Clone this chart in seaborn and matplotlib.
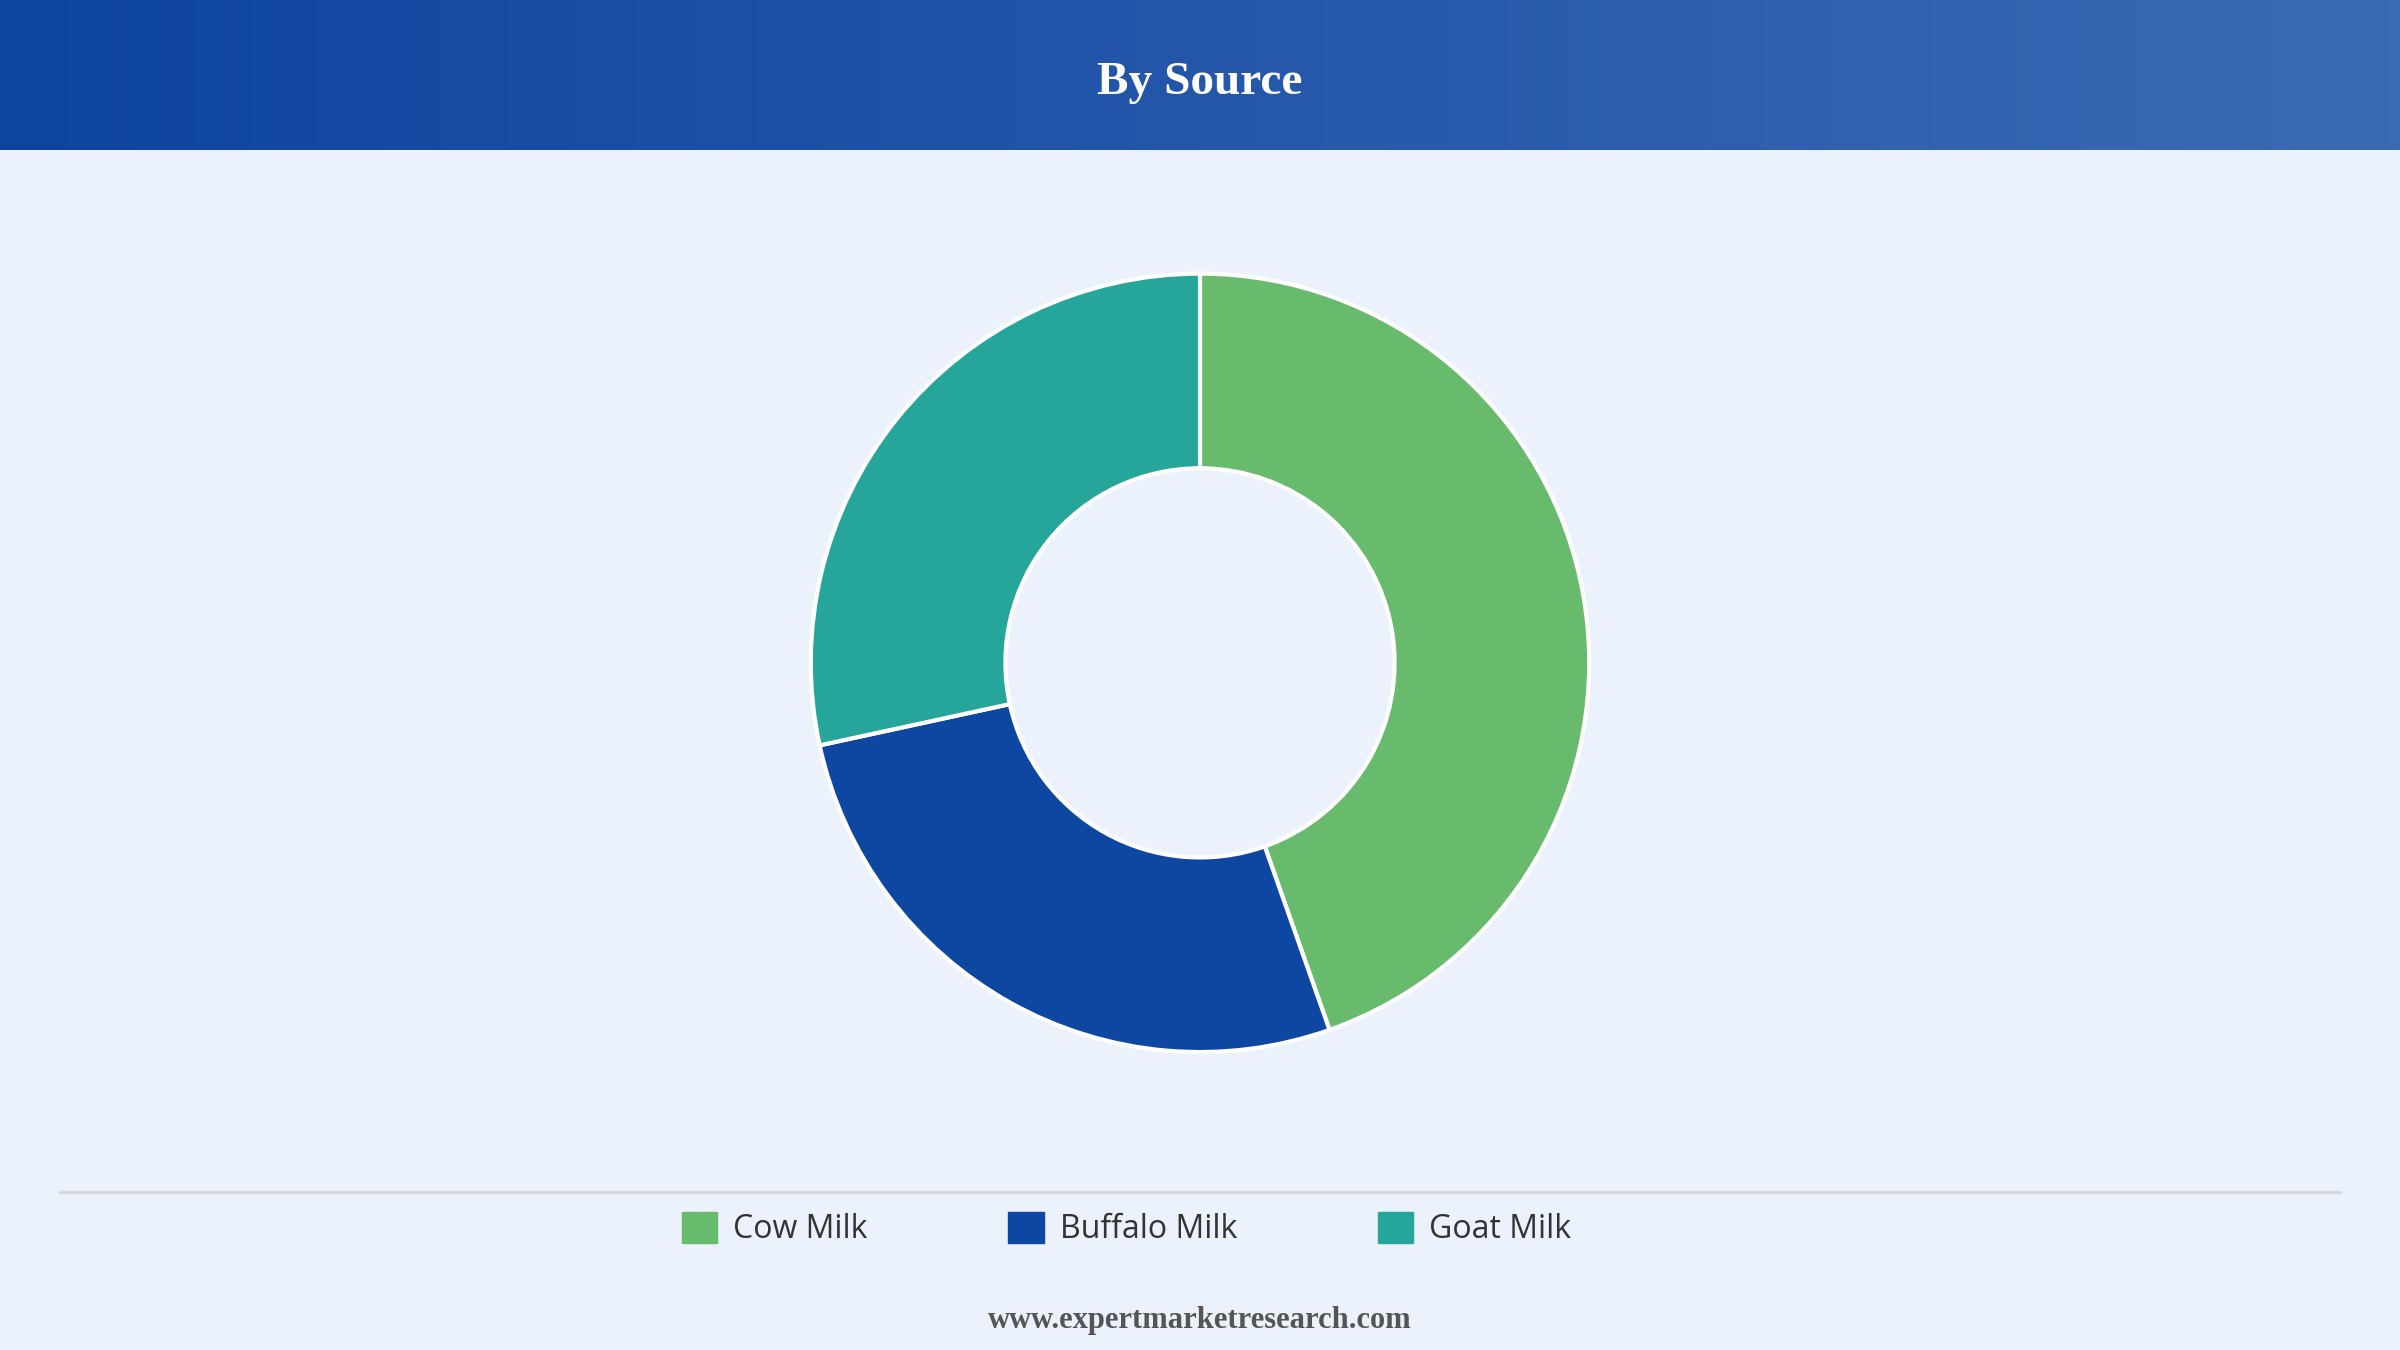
import numpy as np
import matplotlib
matplotlib.use("Agg")
import matplotlib.pyplot as plt
import seaborn as sns
from matplotlib.patches import Patch
from matplotlib.colors import LinearSegmentedColormap

categories = ["Cow Milk", "Buffalo Milk", "Goat Milk"]
values = [44.6, 27.0, 28.4]
colors = ["#68BB6C", "#0D47A1", "#26A69A"]

sns.set_theme(style="white")
plt.rcParams['font.family'] = ['Open Sans', 'DejaVu Sans']

bg = "#EBF2FB"
fig = plt.figure(figsize=(24, 13.5), dpi=100, facecolor=bg)

# header gradient
hax = fig.add_axes([0, 1 - 98/882, 1, 98/882])
cmap = LinearSegmentedColormap.from_list("g", ["#0D44A0", "#3B6AB4"])
hax.imshow(np.linspace(0, 1, 256)[None, :], aspect="auto", cmap=cmap, extent=[0, 1, 0, 1])
hax.set_axis_off()
hax.text(0.5, 0.45, "By Source", color="white", ha="center", va="center",
         fontsize=34, fontweight="bold", family=["Liberation Serif", "DejaVu Serif"])

# donut
h = 0.62
w = h * 13.5 / 24
ax = fig.add_axes([0.5 - w/2, 0.509 - h/2, w, h])
ax.set_facecolor(bg)
ax.pie(values, colors=colors, startangle=90, counterclock=False, radius=0.93,
       wedgeprops=dict(width=0.465, edgecolor="white", linewidth=3))
ax.set_xlim(-1, 1); ax.set_ylim(-1, 1)
ax.set_aspect("equal")
ax.set_axis_off()

# separator line
fig.add_artist(plt.Line2D([0.025, 0.975], [1 - 779/882] * 2, color="#D5D9DE", lw=2.5))

handles = [Patch(facecolor=c, edgecolor=c, label=l) for c, l in zip(colors, categories)]
fig.legend(handles=handles, loc="center", bbox_to_anchor=(736/1568, 1 - 803/882), ncol=3,
           frameon=False, fontsize=23, handlelength=1.1, handleheight=1.1,
           columnspacing=4.4, handletextpad=0.5, labelcolor="#333333")

fig.text(0.5, 1 - 863/882, "www.expertmarketresearch.com", ha="center", va="center",
         fontsize=22, fontweight="bold", color="#555555",
         family=["Liberation Serif", "DejaVu Serif"])

fig.savefig("out.png", dpi=100, facecolor=bg)
